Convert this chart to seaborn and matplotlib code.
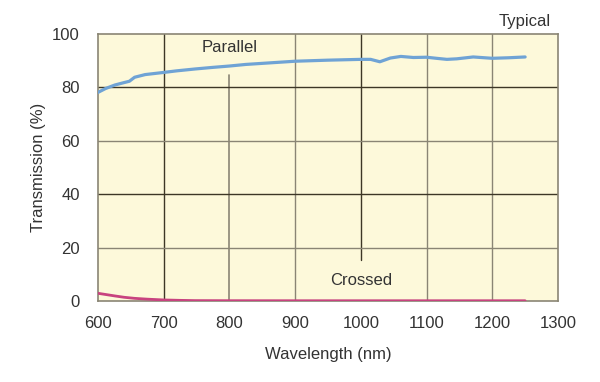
import matplotlib
matplotlib.use("Agg")
import matplotlib.pyplot as plt
import seaborn as sns
import pandas as pd

# ─── Data ────────────────────────────────────────────────────────────────────
PAR_WL = [600, 612, 626, 640, 648, 656, 672, 700, 720, 748, 775, 800, 825,
          850, 900, 950, 1000, 1015, 1029, 1045, 1061, 1080, 1100, 1115,
          1131, 1146, 1171, 1200, 1225, 1250]
PAR_T = [78.1, 79.6, 80.9, 81.8, 82.3, 83.8, 84.8, 85.6, 86.2, 86.9, 87.5,
         88.0, 88.6, 89.0, 89.8, 90.2, 90.5, 90.5, 89.6, 91.0, 91.6, 91.2,
         91.3, 90.9, 90.5, 90.7, 91.4, 90.9, 91.1, 91.4]

CRS_WL = [600, 613, 626, 640, 656, 675, 700, 725, 748, 800, 900, 1000, 1100, 1250]
CRS_T = [2.9, 2.4, 1.9, 1.4, 1.0, 0.7, 0.4, 0.25, 0.15, 0.12, 0.1, 0.1, 0.1, 0.1]

X_TICKS = [600, 700, 800, 900, 1000, 1100, 1200, 1300]
Y_TICKS = [0, 20, 40, 60, 80, 100]

BG = "#fdf9da"
DARK = "#3d3726"
GREY = "#8a8574"
TXT = "#333333"

sns.set_style("white")
plt.rcParams["font.family"] = ["Liberation Sans", "DejaVu Sans"]

fig = plt.figure(figsize=(6, 3.82), dpi=100)
ax = fig.add_axes([0.163, 0.212, 0.767, 0.699])
ax.set_facecolor(BG)

# grid, drawn by hand so two lines can break around the labels
for x, c in zip([700, 900, 1100, 1200], [DARK, GREY, GREY, GREY]):
    ax.axvline(x, color=c, lw=1, zorder=1)
ax.plot([800, 800], [0, 84.5], color=GREY, lw=1.2, zorder=1)
ax.plot([1000, 1000], [15.5, 100], color=DARK, lw=1, zorder=1)
for y, c in zip([20, 40, 60, 80], [GREY, DARK, GREY, DARK]):
    ax.axhline(y, color=c, lw=1, zorder=1)

par = pd.DataFrame({"wl": PAR_WL, "t": PAR_T})
crs = pd.DataFrame({"wl": CRS_WL, "t": CRS_T})
sns.lineplot(data=par, x="wl", y="t", ax=ax, color="#6fa3d5", lw=2.3, zorder=3)
sns.lineplot(data=crs, x="wl", y="t", ax=ax, color="#c8437f", lw=2, zorder=3)

ax.text(800, 94.8, "Parallel", ha="center", va="center", fontsize=12, color=TXT)
ax.text(1000, 7.5, "Crossed", ha="center", va="center", fontsize=12, color=TXT)
fig.text(0.875, 0.945, "Typical", ha="center", va="center", fontsize=12, color=TXT)

ax.set_xlim(600, 1300)
ax.set_ylim(0, 100)
ax.set_xticks(X_TICKS)
ax.set_yticks(Y_TICKS)
ax.tick_params(length=0, labelsize=12, labelcolor=TXT)
ax.tick_params(axis="x", pad=11)
ax.tick_params(axis="y", pad=13)
ax.set_xlabel("Wavelength (nm)", fontsize=12, color=TXT, labelpad=11)
ax.set_ylabel("Transmission (%)", fontsize=12, color=TXT, labelpad=4)
for s in ax.spines.values():
    s.set_color(GREY)
    s.set_linewidth(1.2)

fig.savefig("out.png", dpi=100)
